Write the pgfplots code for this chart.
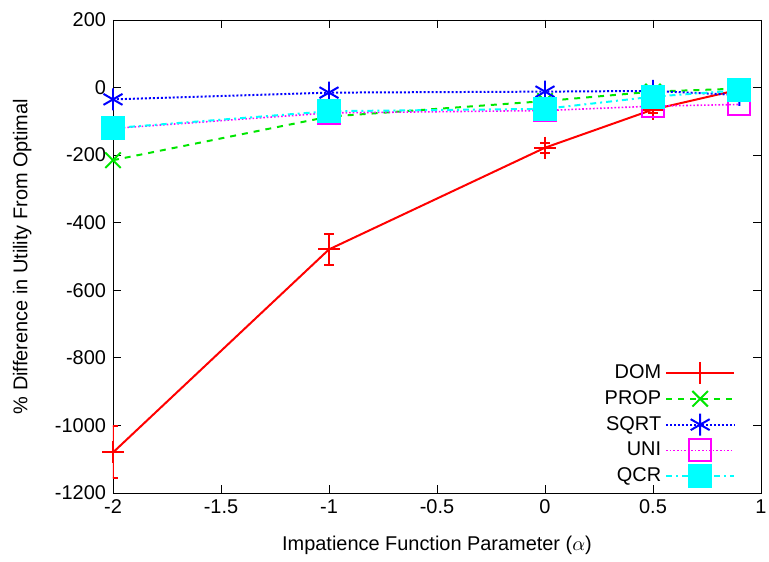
\documentclass[border=0pt]{standalone}
\usepackage{pgfplots}
\pgfplotsset{compat=1.18}
\usepackage{fontspec}
\setmainfont{Liberation Sans}
\usetikzlibrary{calc}
\definecolor{gpred}{RGB}{255,0,0}
\definecolor{gpgreen}{RGB}{0,230,0}
\definecolor{gpblue}{RGB}{0,0,255}
\definecolor{gpmag}{RGB}{255,0,255}
\definecolor{gpcyan}{RGB}{0,255,255}
\begin{document}
\begin{tikzpicture}
\begin{axis}[
    scale only axis,
    width=324bp, height=236.5bp,
    xmin=-2, xmax=1, ymin=-1200, ymax=200,
    xtick={-2,-1.5,...,1}, ytick={-1200,-1000,...,200},
    tick align=inside, tick pos=both, tick style={black, thin},
    major tick length=4bp,
    axis line style={black, thin},
    /pgf/number format/assume math mode=true,
    xticklabel style={/pgf/number format/fixed},
    yticklabel style={/pgf/number format/fixed, /pgf/number format/1000 sep={}},
    ticklabel style={font=\fontsize{10}{12}\selectfont},
    label style={font=\fontsize{10}{12}\selectfont},
    every axis y label/.style={at={(axis description cs:-0.14,0.5)}, rotate=90, anchor=center},
    every axis x label/.style={at={(axis description cs:0.5,-0.11)}, anchor=center},
    xlabel={Impatience Function Parameter ($\alpha$)},
    ylabel={\% Difference in Utility From Optimal},
    legend style={at={(0.97,0.0)}, anchor=south east, draw=none, fill=none,
        font=\fontsize{10}{12}\selectfont, row sep=0.5pt},
    legend cell align=right,
    legend plot pos=right,
    legend image code/.code={\draw[mark repeat=2,mark phase=2]
        plot coordinates {(0cm,0cm)(0.6cm,0cm)(1.2cm,0cm)};},
]
\addplot[gpred, line width=1pt, mark=+, mark size=5.5pt,
    error bars/.cd, y dir=both, y explicit,
    error bar style={line width=1pt}, error mark options={rotate=90, mark size=2.5pt, line width=1pt}]
    coordinates {
    (-2,-1080) +- (0,77)
    (-1,-479) +- (0,47)
    (0,-178) +- (0,15)
    (0.5,-65) +- (0,10)
    (0.9,-6) +- (0,5)
};
\addlegendentry{DOM}
\addplot[gpgreen, line width=1pt, dashed, mark=x, mark size=5.5pt, mark options={solid}]
    coordinates {
    (-2,-215) (-1,-86) (0,-40) (0.5,-12) (0.9,-3)
};
\addlegendentry{PROP}
\addplot[gpblue, line width=1pt, densely dotted, mark=asterisk, mark size=5.5pt, mark options={solid}]
    coordinates {
    (-2,-35) (-1,-15) (0,-12) (0.5,-10) (0.9,-22)
};
\addlegendentry{SQRT}
\addplot[gpmag, line width=0.8pt, densely dotted, mark=square, mark size=5.5pt, mark options={solid, line width=1pt}]
    coordinates {
    (-2,-121) (-1,-75) (0,-68) (0.5,-55) (0.9,-50)
};
\addlegendentry{UNI}
\addplot[gpcyan, line width=1pt, dash dot, mark=square*, mark size=5.5pt, mark options={solid}]
    coordinates {
    (-2,-120) (-1,-70) (0,-63) (0.5,-27) (0.9,-8)
};
\addlegendentry{QCR}
\end{axis}
\pgfresetboundingbox
\path ($(current axis.south west)+(-56.5bp,-34.5bp)$) rectangle ($(current axis.north east)+(4bp,10bp)$);
\end{tikzpicture}
\end{document}
